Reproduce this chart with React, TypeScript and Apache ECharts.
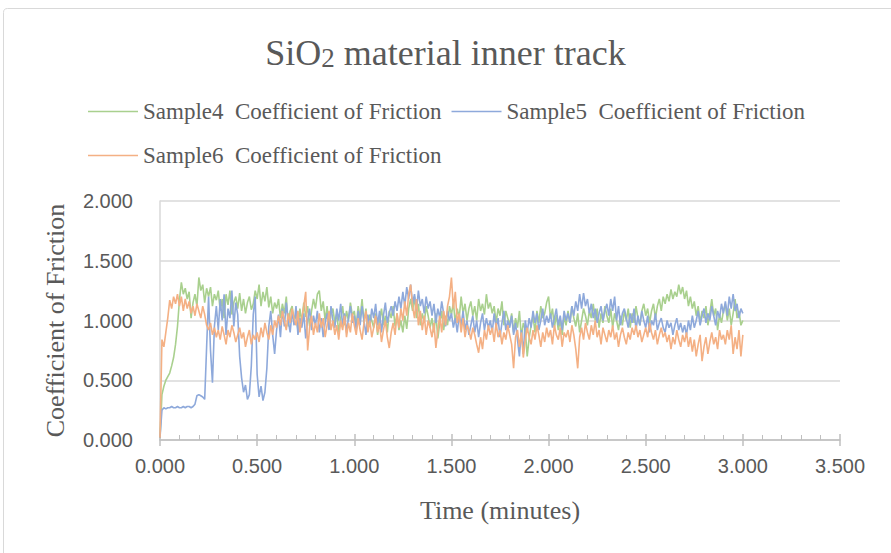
import React, { useEffect, useRef } from "react";
import * as echarts from "echarts";

// Sampling interval of the tribometer log, in minutes
const TIME_STEP = 0.01;

const SERIES_NAMES = [
  "Sample4  Coefficient of Friction",
  "Sample5  Coefficient of Friction",
  "Sample6  Coefficient of Friction",
];

const X_TICKS = [0, 0.5, 1, 1.5, 2, 2.5, 3, 3.5];
const Y_TICKS = [0, 0.5, 1, 1.5, 2];

// Coefficient of friction, one reading per TIME_STEP from 0.00 to 3.00 min
const sample4 = [
  0.02, 0.38, 0.45, 0.50, 0.53, 0.56, 0.62, 0.69, 0.80, 0.95,
  1.17, 1.32, 1.22, 1.27, 1.18, 1.24, 1.02, 1.15, 1.22, 1.12,
  1.36, 1.25, 1.30, 1.15, 1.27, 1.20, 1.28, 1.12, 1.22, 1.17,
  1.25, 1.08, 1.18, 1.02, 1.22, 1.13, 1.25, 1.05, 1.15, 1.20,
  1.10, 1.23, 1.08, 1.18, 1.06, 1.15, 1.20, 1.09, 1.14, 1.25,
  1.18, 1.30, 1.12, 1.24, 1.16, 1.28, 1.11, 1.20, 1.06, 1.15,
  1.10, 1.18, 1.02, 1.14, 1.06, 1.20, 0.95, 1.08, 1.12, 1.00,
  1.05, 0.92, 1.10, 0.98, 1.15, 1.03, 1.12, 0.95, 1.08, 1.18,
  1.10, 1.22, 1.25, 1.08, 1.16, 1.00, 1.12, 0.93, 1.05, 1.10,
  0.98, 1.06, 0.90, 1.02, 1.12, 0.96, 1.08, 1.00, 1.15, 1.04,
  1.08, 0.95, 1.12, 1.02, 1.18, 0.98, 1.10, 0.92, 1.05, 1.00,
  0.94, 1.06, 0.88, 1.00, 1.10, 0.96, 1.04, 0.90, 1.08, 1.02,
  1.12, 0.95, 1.06, 0.92, 1.00, 0.90, 1.04, 0.93, 1.10, 1.18,
  1.08, 1.20, 1.02, 1.14, 0.96, 1.06, 0.98, 1.12, 1.04, 0.94,
  1.02, 0.90, 1.06, 0.85, 0.98, 1.08, 0.92, 1.04, 0.96, 1.12,
  1.05, 1.15, 0.98, 1.10, 1.02, 1.20, 1.06, 1.14, 1.00, 1.10,
  1.16, 1.04, 1.12, 1.00, 1.18, 1.08, 1.14, 1.05, 1.22, 1.10,
  1.15, 1.06, 1.12, 0.98, 1.10, 1.04, 1.16, 0.96, 1.08, 1.02,
  0.96, 1.06, 0.90, 1.02, 0.94, 1.08, 0.86, 0.98, 0.92, 0.70,
  0.85, 0.96, 1.04, 0.90, 1.08, 0.98, 1.12, 1.02, 1.06, 1.15,
  1.20, 1.02, 1.10, 0.94, 1.05, 0.92, 1.00, 0.88, 1.04, 0.96,
  1.08, 0.98, 1.12, 1.02, 0.95, 1.06, 0.90, 1.00, 1.10, 1.04,
  0.96, 1.08, 1.02, 1.14, 1.00, 1.10, 0.94, 1.06, 0.98, 1.12,
  1.04, 0.98, 1.10, 0.94, 1.06, 1.00, 0.92, 1.04, 0.96, 1.08,
  1.00, 1.10, 0.94, 1.06, 0.98, 1.12, 1.02, 0.96, 1.08, 1.14,
  1.04, 1.10, 0.98, 1.08, 1.14, 1.02, 1.12, 1.18, 1.08, 1.20,
  1.14, 1.22, 1.16, 1.26, 1.18, 1.24, 1.20, 1.30, 1.22, 1.28,
  1.18, 1.25, 1.12, 1.20, 1.10, 1.16, 1.04, 1.12, 0.98, 1.08,
  1.02, 1.12, 0.96, 1.06, 1.18, 1.04, 1.10, 0.92, 1.05, 0.98,
  1.08, 1.14, 1.00, 1.10, 0.96, 1.06, 1.18, 1.02, 1.08, 0.96,
  1.00,
];

const sample5 = [
  0.02, 0.25, 0.27, 0.26, 0.27, 0.27, 0.28, 0.27, 0.27, 0.28,
  0.27, 0.27, 0.28, 0.27, 0.28, 0.28, 0.27, 0.28, 0.30, 0.37,
  0.38, 0.37, 0.36, 0.34, 0.78, 1.20, 0.75, 0.48, 0.95, 1.12,
  0.92, 1.18, 1.00, 1.22, 0.88, 1.10, 1.02, 1.25, 0.95, 1.15,
  1.05, 0.70, 0.52, 0.40, 0.46, 0.34, 0.38, 0.62, 1.05, 1.20,
  0.55, 0.36, 0.45, 0.33, 0.40, 0.60, 0.95, 1.08, 0.88, 0.72,
  0.92, 1.05, 0.86, 1.10, 0.95, 1.15, 1.00, 0.90, 1.08, 0.96,
  1.12, 0.88, 1.02, 0.94, 1.06, 0.85, 1.00, 1.10, 0.92, 1.04,
  0.96, 1.08, 0.90, 1.02, 0.86, 0.98, 1.06, 0.92, 1.12, 1.00,
  0.94, 1.10, 1.00, 1.14, 0.96, 1.06, 0.90, 1.02, 1.12, 0.98,
  1.04, 0.92, 1.08, 0.96, 1.12, 1.00, 0.88, 1.05, 0.95, 1.10,
  1.02, 1.14, 0.96, 1.08, 0.90, 1.04, 1.15, 0.98, 1.06, 1.12,
  1.04, 1.16, 1.08, 1.20, 1.10, 1.24, 1.12, 1.28, 1.18, 1.30,
  1.14, 1.22, 1.08, 1.25, 1.12, 1.18, 1.06, 1.20, 1.10, 1.16,
  1.04, 1.14, 0.98, 1.10, 1.02, 1.16, 1.06, 0.95, 1.08, 1.00,
  1.06, 0.94, 1.02, 0.90, 1.05, 0.96, 1.08, 0.92, 1.00, 0.88,
  0.96, 1.04, 0.90, 1.00, 0.86, 0.98, 1.06, 0.92, 1.02, 0.94,
  1.00, 0.90, 1.06, 0.94, 1.02, 0.86, 0.98, 1.08, 0.92, 1.00,
  0.94, 1.04, 0.88, 0.98, 0.84, 0.70, 0.92, 0.72, 1.00, 0.90,
  1.02, 0.94, 1.08, 0.98, 1.06, 0.92, 1.00, 1.10, 0.96, 1.04,
  0.98, 1.06, 0.94, 1.02, 1.10, 0.96, 1.04, 0.92, 1.08, 1.00,
  1.06, 0.98, 1.12, 1.04, 1.16, 1.08, 1.22, 1.10, 1.23, 1.12,
  1.18, 1.06, 1.14, 1.02, 1.10, 0.98, 1.06, 1.12, 1.00, 1.08,
  1.14, 1.04, 1.18, 1.08, 1.20, 1.00, 1.12, 0.96, 1.06, 1.10,
  1.02, 0.94, 1.06, 0.98, 1.10, 0.92, 1.04, 0.96, 1.08, 1.00,
  0.94, 1.04, 0.90, 1.00, 0.96, 1.06, 0.92, 0.98, 1.02, 0.94,
  0.90, 1.00, 0.94, 0.98, 0.88, 0.96, 1.02, 0.92, 0.98, 0.90,
  0.96, 0.88, 1.00, 0.92, 1.04, 0.94, 1.00, 1.08, 0.96, 1.04,
  1.10, 0.98, 1.06, 1.00, 1.12, 1.04, 0.96, 1.08, 1.02, 1.14,
  1.06, 1.16, 1.04, 1.20, 1.10, 1.22, 1.08, 1.14, 1.02, 1.10,
  1.06,
];

const sample6 = [
  0.02, 0.84, 0.78, 0.90, 1.02, 1.17, 1.10, 1.20, 1.14, 1.22,
  1.12, 1.20, 1.08, 1.18, 1.10, 1.16, 1.06, 1.12, 1.04, 1.14,
  1.08, 1.02, 1.12, 1.05, 0.96, 0.92, 0.98, 0.88, 0.94, 0.86,
  0.92, 0.84, 0.95, 0.88, 0.80, 0.92, 0.86, 0.96, 0.90, 0.82,
  0.88, 0.94, 0.85, 0.90, 0.78, 0.86, 0.92, 0.80, 0.88, 0.84,
  0.90, 0.82, 0.94, 0.86, 0.98, 0.90, 0.84, 0.96, 0.88, 1.00,
  0.94, 1.04, 0.96, 1.08, 1.00, 0.92, 1.06, 0.98, 1.10, 1.02,
  0.96, 1.08, 0.90, 1.02, 1.12, 1.24, 0.75, 0.94, 1.04, 0.88,
  0.98, 0.90, 1.06, 0.94, 1.02, 0.86, 0.96, 1.08, 0.92, 1.00,
  0.88, 0.96, 0.84, 1.00, 0.92, 1.04, 0.86, 0.98, 0.90, 1.06,
  0.96, 0.88, 1.02, 0.92, 0.84, 0.98, 1.08, 0.90, 1.00, 0.86,
  0.94, 1.04, 0.90, 0.98, 0.82, 0.92, 1.00, 0.86, 0.77, 0.90,
  0.98, 0.88, 1.06, 0.94, 1.10, 1.00, 1.16, 1.04, 1.22, 1.30,
  1.12, 1.02, 1.18, 0.96, 1.08, 0.92, 1.04, 0.88, 1.00, 0.94,
  0.86, 0.98, 0.77, 0.92, 1.04, 0.90, 1.08, 0.96, 1.12, 1.20,
  1.36, 1.10, 1.24, 0.98, 1.06, 0.90, 1.02, 0.86, 0.96, 0.92,
  0.84, 0.94, 0.88, 0.80, 0.73, 0.86, 0.76, 0.92, 0.84, 0.96,
  0.88, 0.94, 0.82, 0.98, 0.86, 0.92, 0.80, 0.90, 0.84, 0.96,
  0.88, 0.80, 0.60, 0.86, 0.92, 0.78, 0.90, 0.69, 0.84, 0.94,
  0.86, 0.80, 0.92, 0.84, 0.96, 0.88, 0.78, 0.90, 0.82, 0.94,
  0.86, 0.92, 0.80, 0.96, 0.88, 0.84, 0.94, 0.78, 0.90, 0.86,
  0.92, 0.82, 0.96, 0.88, 0.76, 0.60, 0.86, 0.94, 0.84, 0.98,
  0.90, 0.84, 0.96, 0.88, 1.00, 0.86, 0.92, 0.80, 0.94, 0.88,
  0.82, 0.92, 0.86, 0.96, 0.84, 0.90, 0.78, 0.88, 0.94, 0.86,
  0.80, 0.90, 0.84, 0.94, 0.88, 0.96, 0.86, 0.92, 0.82, 0.88,
  0.94, 0.86, 0.98, 0.90, 0.84, 0.92, 0.80, 0.88, 0.94, 0.86,
  0.90, 0.82, 0.88, 0.76, 0.86, 0.80, 0.92, 0.84, 0.78, 0.88,
  0.82, 0.90, 0.78, 0.86, 0.74, 0.84, 0.70, 0.80, 0.88, 0.66,
  0.78, 0.86, 0.72, 0.82, 0.90, 0.80, 0.86, 0.76, 0.92, 0.84,
  0.88, 0.80, 0.92, 0.84, 0.96, 0.72, 0.86, 0.76, 0.92, 0.70,
  0.88,
];

const COLORS = ["#a9d08e", "#8ea9db", "#f4b084"];
const SERIF = "'Liberation Serif', 'Times New Roman', serif";
const SANS = "'Liberation Sans', Arial, sans-serif";
const TEXT_GREY = "#595959";

const toPairs = (values: number[]) =>
  values.map((v, i) => [Number((i * TIME_STEP).toFixed(2)), v]);

export default function App() {
  const ref = useRef<HTMLDivElement>(null);

  useEffect(() => {
    if (!ref.current) return;
    const chart = echarts.init(ref.current, undefined, { renderer: "svg" });

    const xMin = X_TICKS[0];
    const xMax = X_TICKS[X_TICKS.length - 1];
    const xInterval = X_TICKS[1] - X_TICKS[0];
    const yMin = Y_TICKS[0];
    const yMax = Y_TICKS[Y_TICKS.length - 1];
    const yInterval = Y_TICKS[1] - Y_TICKS[0];

    const legendText = { fontFamily: SERIF, fontSize: 23, color: TEXT_GREY };
    const legendBase = {
      icon: "rect",
      left: 88,
      padding: 0,
      itemWidth: 50,
      itemHeight: 1.5,
      itemGap: 10,
      textStyle: legendText,
    };
    const allSeries = [sample4, sample5, sample6];

    chart.setOption({
      animation: false,
      backgroundColor: "#ffffff",
      title: {
        text: "{a|SiO}{b|2}{a| material inner track}",
        left: "center",
        top: 29,
        textStyle: {
          fontWeight: "normal",
          rich: {
            a: { fontFamily: SERIF, fontSize: 36, fontWeight: "normal", color: TEXT_GREY },
            b: {
              fontFamily: SERIF,
              fontSize: 27,
              fontWeight: "normal",
              color: TEXT_GREY,
              verticalAlign: "bottom",
              padding: [10, 0, 0, 0],
            },
          },
        },
      },
      legend: [
        { ...legendBase, data: [SERIES_NAMES[0], SERIES_NAMES[1]], top: 100 },
        { ...legendBase, data: [SERIES_NAMES[2]], top: 144 },
      ],
      grid: { left: 160, right: 51, top: 201, bottom: 113, containLabel: false },
      xAxis: [
        {
          type: "value",
          min: xMin,
          max: xMax,
          interval: xInterval,
          name: "Time (minutes)",
          nameLocation: "middle",
          nameGap: 57,
          nameTextStyle: { fontFamily: SERIF, fontSize: 26, color: TEXT_GREY },
          axisLine: { show: true, lineStyle: { color: "#bfbfbf", width: 1.5 } },
          axisTick: { show: true, inside: true, length: 6, lineStyle: { color: "#bfbfbf", width: 1.5 } },
          minorTick: { show: true, splitNumber: 5, length: 5, lineStyle: { color: "#bfbfbf", width: 1 } },
          axisLabel: {
            margin: 16,
            fontFamily: SANS,
            fontSize: 20,
            color: TEXT_GREY,
            formatter: (v: number) => v.toFixed(3),
          },
          splitLine: { show: false },
        },
        {
          // outer half of the crossing major tick marks
          type: "value",
          position: "bottom",
          gridIndex: 0,
          min: xMin,
          max: xMax,
          interval: xInterval,
          axisLine: { show: false },
          axisTick: { show: true, inside: false, length: 6, lineStyle: { color: "#bfbfbf", width: 1.5 } },
          axisLabel: { show: false },
          splitLine: { show: false },
        },
      ],
      yAxis: {
        type: "value",
        min: yMin,
        max: yMax,
        interval: yInterval,
        name: "Coefficient of Friction",
        nameLocation: "middle",
        nameGap: 92,
        nameTextStyle: { fontFamily: SERIF, fontSize: 26, color: TEXT_GREY },
        axisLine: { show: true, lineStyle: { color: "#d9d9d9", width: 1.5 } },
        axisTick: { show: false },
        axisLabel: {
          margin: 27,
          fontFamily: SANS,
          fontSize: 20,
          color: TEXT_GREY,
          formatter: (v: number) => v.toFixed(3),
        },
        splitLine: { show: true, lineStyle: { color: "#d9d9d9", width: 1.5 } },
      },
      series: allSeries.map((values, i) => ({
        name: SERIES_NAMES[i],
        type: "line",
        xAxisIndex: 0,
        data: toPairs(values),
        showSymbol: false,
        symbol: "none",
        lineStyle: { color: COLORS[i], width: 1.6 },
        itemStyle: { color: COLORS[i] },
        z: 2 + i,
      })),
      graphic: [
        {
          type: "rect",
          shape: { x: 3.5, y: 8.5, width: 900, height: 560, r: 4 },
          style: { fill: "none", stroke: "#d9d9d9", lineWidth: 1 },
          silent: true,
          z: -1,
        },
      ],
    });

    return () => chart.dispose();
  }, []);

  return (
    <div
      ref={ref}
      style={{ position: "absolute", left: 0, top: 0, width: 891, height: 553 }}
    />
  );
}
